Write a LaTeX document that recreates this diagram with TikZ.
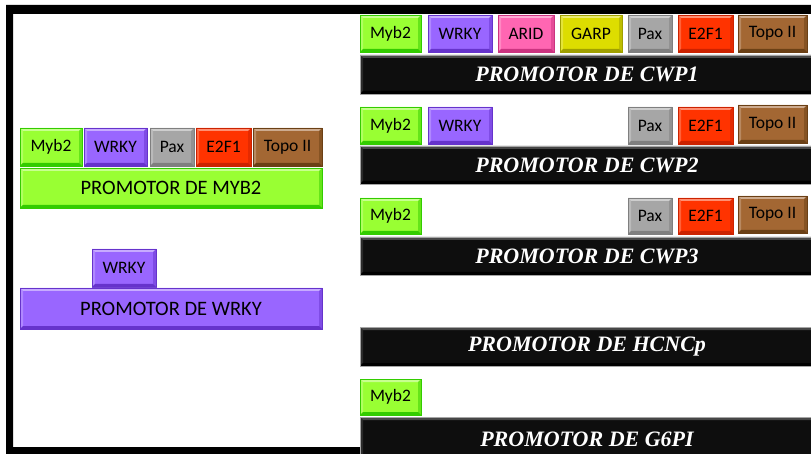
\documentclass[tikz,border=0pt]{standalone}
\usepackage{fontspec}
\setmainfont{Carlito}
\newfontfamily\barfont{Liberation Serif}

\definecolor{cgreen}{HTML}{99FF33}
\definecolor{cgreenD}{HTML}{33CC00}
\definecolor{cpurple}{HTML}{9966FF}
\definecolor{cpurpleD}{HTML}{6633CC}
\definecolor{cgray}{HTML}{A6A6A6}
\definecolor{cgrayD}{HTML}{7F7F7F}
\definecolor{cred}{HTML}{FF3300}
\definecolor{credD}{HTML}{CC2200}
\definecolor{cbrown}{HTML}{A36733}
\definecolor{cbrownD}{HTML}{6B4015}
\definecolor{cpink}{HTML}{FF66B2}
\definecolor{cpinkD}{HTML}{CC3380}
\definecolor{cyellow}{HTML}{DDDD00}
\definecolor{cyellowD}{HTML}{A0A000}
\definecolor{cblack}{HTML}{0E0E0E}

\tikzset{
  % bevelled edges: lighter top/left, darker bottom/right
  bevel/.style n args={2}{path picture={
    \fill[#1] (path picture bounding box.north west) -- (path picture bounding box.north east)
      -- ([xshift=-3pt,yshift=-3pt]path picture bounding box.north east)
      -- ([xshift=3pt,yshift=-3pt]path picture bounding box.north west) -- cycle;
    \fill[#1,opacity=0.5] (path picture bounding box.north west) -- (path picture bounding box.south west)
      -- ([xshift=3pt,yshift=3pt]path picture bounding box.south west)
      -- ([xshift=3pt,yshift=-3pt]path picture bounding box.north west) -- cycle;
    \fill[#2] (path picture bounding box.south west) -- (path picture bounding box.south east)
      -- ([xshift=-3pt,yshift=3pt]path picture bounding box.south east)
      -- ([xshift=3pt,yshift=3pt]path picture bounding box.south west) -- cycle;
    \fill[#2,opacity=0.5] (path picture bounding box.north east) -- (path picture bounding box.south east)
      -- ([xshift=-3pt,yshift=3pt]path picture bounding box.south east)
      -- ([xshift=-3pt,yshift=-3pt]path picture bounding box.north east) -- cycle;
  }},
  tfbox/.style n args={2}{rectangle, anchor=north west, inner sep=0pt, outer sep=0pt,
    fill=#1, draw=#2, line width=0.8pt, text=black,
    font=\fontsize{17.5}{18}\selectfont,
    bevel={#1!55!white}{#2}},
  prombox/.style n args={2}{tfbox={#1}{#2}, font=\fontsize{20.5}{21}\selectfont},
  blackbar/.style={rectangle, anchor=north west, inner sep=0pt, outer sep=0pt,
    fill=cblack, draw=gray!70, line width=0.8pt, text=white,
    minimum width=460pt,
    font=\barfont\bfseries\itshape\fontsize{22}{22}\selectfont,
    bevel={black!72!white}{black}},
  myb/.style={tfbox={cgreen}{cgreenD}},
  wrk/.style={tfbox={cpurple}{cpurpleD}},
  pax/.style={tfbox={cgray}{cgrayD}},
  e2f/.style={tfbox={cred}{credD}},
  topo/.style={tfbox={cbrown}{cbrownD}},
  arid/.style={tfbox={cpink}{cpinkD}},
  garp/.style={tfbox={cyellow}{cyellowD}},
}

\begin{document}
\begin{tikzpicture}[x=1pt,y=-1pt]
  \useasboundingbox (0,0) rectangle (811,454);
  \fill[white] (0,0) rectangle (811,454);

  % outer frame
  \fill[black, even odd rule] (6,5) rectangle (820,460) (13,14) rectangle (820,447);

  % ---- left column: MYB2 promoter ----
  \node[myb,  minimum width=62pt, minimum height=38pt] (lmyb)  at (20,128)  {Myb2};
  \node[wrk,  minimum width=63pt, minimum height=38pt] (lwrk)  at (84,128)  {WRKY};
  \node[pax,  minimum width=44pt, minimum height=38pt] (lpax)  at (150,128) {Pax};
  \node[e2f,  minimum width=55pt, minimum height=38pt] (le2f)  at (196,128) {E2F1};
  \node[topo, minimum width=69pt, minimum height=38pt] (ltopo) at (253,128) {Topo II};
  \node[prombox={cgreen}{cgreenD}, minimum width=302pt, minimum height=40pt] (pmyb) at (20,168) {PROMOTOR DE MYB2};

  % ---- left column: WRKY promoter ----
  \node[wrk, minimum width=64pt, minimum height=38pt] (lwrk2) at (92,249) {WRKY};
  \node[prombox={cpurple}{cpurpleD}, minimum width=302pt, minimum height=41pt] (pwrk) at (20,288) {PROMOTOR DE WRKY};

  % ---- CWP1 ----
  \node[myb,  minimum width=61pt, minimum height=37pt] (a1) at (360,15) {Myb2};
  \node[wrk,  minimum width=64pt, minimum height=37pt] (a2) at (428,15) {WRKY};
  \node[arid, minimum width=56pt, minimum height=37pt] (a3) at (498,15) {ARID};
  \node[garp, minimum width=62pt, minimum height=37pt] (a4) at (560,15) {GARP};
  \node[pax,  minimum width=44pt, minimum height=37pt] (a5) at (628,15) {Pax};
  \node[e2f,  minimum width=55pt, minimum height=37pt] (a6) at (678,15) {E2F1};
  \node[topo, minimum width=69pt, minimum height=37pt] (a7) at (738,15) {Topo II};
  \node[blackbar, minimum height=39pt] (cwp1) at (360,55) {\hspace*{-6pt}PROMOTOR DE CWP1};

  % ---- CWP2 ----
  \node[myb,  minimum width=61pt, minimum height=37pt] (b1) at (360,107) {Myb2};
  \node[wrk,  minimum width=64pt, minimum height=37pt] (b2) at (428,107) {WRKY};
  \node[pax,  minimum width=44pt, minimum height=37pt] (b5) at (628,107) {Pax};
  \node[e2f,  minimum width=55pt, minimum height=37pt] (b6) at (678,107) {E2F1};
  \node[topo, minimum width=69pt, minimum height=38pt] (b7) at (738,105) {Topo II};
  \node[blackbar, minimum height=38pt] (cwp2) at (360,146) {\hspace*{-6pt}PROMOTOR DE CWP2};

  % ---- CWP3 ----
  \node[myb,  minimum width=61pt, minimum height=36pt] (c1) at (360,198) {Myb2};
  \node[pax,  minimum width=44pt, minimum height=36pt] (c5) at (628,198) {Pax};
  \node[e2f,  minimum width=55pt, minimum height=36pt] (c6) at (678,198) {E2F1};
  \node[topo, minimum width=69pt, minimum height=37pt] (c7) at (738,196) {Topo II};
  \node[blackbar, minimum height=38pt] (cwp3) at (360,237) {\hspace*{-6pt}PROMOTOR DE CWP3};

  % ---- HCNCp ----
  \node[blackbar, minimum height=39pt] (hcnc) at (360,327) {\hspace*{-6pt}PROMOTOR DE HCNCp};

  % ---- G6PI ----
  \node[myb, minimum width=61pt, minimum height=36pt] (e1) at (360,379) {Myb2};
  \node[blackbar, minimum height=45pt] (g6pi) at (360,417) {\hspace*{-6pt}PROMOTOR DE G6PI};
\end{tikzpicture}
\end{document}
